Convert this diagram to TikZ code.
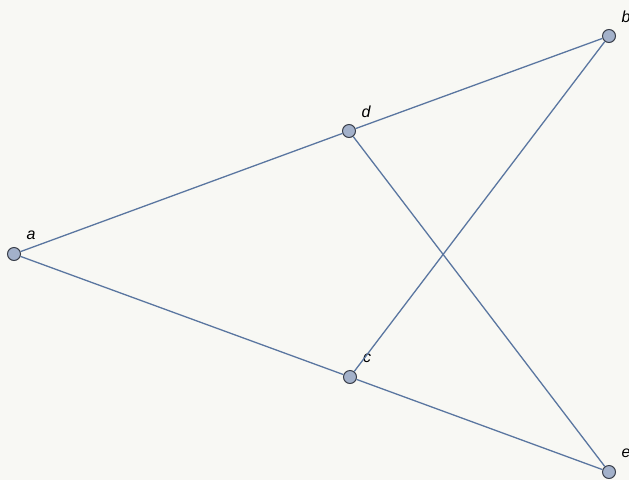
\documentclass[tikz,border=0pt]{standalone}
\usepackage{fontspec}
\setmainfont{Liberation Sans}
\usepackage{tikz}
\usetikzlibrary{positioning}
\definecolor{bgcol}{HTML}{F8F8F4}
\definecolor{edgecol}{HTML}{5A76A0}
\definecolor{vfill}{HTML}{A3B1CA}
\definecolor{vdraw}{HTML}{3A3F4A}
\tikzset{
  vertex/.style={circle,draw=vdraw,fill=vfill,line width=1pt,minimum size=13pt,inner sep=0pt},
  vlabel/.style={font=\fontsize{16}{18}\selectfont\itshape,xshift=17pt,yshift=19pt},
  edge/.style={draw=edgecol,line width=1.3pt}
}
\begin{document}
\begin{tikzpicture}[x=1pt,y=-1pt]
  \fill[bgcol] (0,0) rectangle (629,480);
  \useasboundingbox (0,0) rectangle (629,480);
  \node[vertex,label={[vlabel]center:a}] (a) at (14,254) {};
  \node[vertex,label={[vlabel]center:d}] (d) at (349,131) {};
  \node[vertex,label={[vlabel]center:b}] (b) at (609,36) {};
  \node[vertex,label={[vlabel]center:c}] (c) at (350,377) {};
  \node[vertex,label={[vlabel]center:e}] (e) at (609,472) {};
  \path[edge] (a) -- (d) (d) -- (b) (a) -- (c) (c) -- (e) (c) -- (b) (d) -- (e);
\end{tikzpicture}
\end{document}
